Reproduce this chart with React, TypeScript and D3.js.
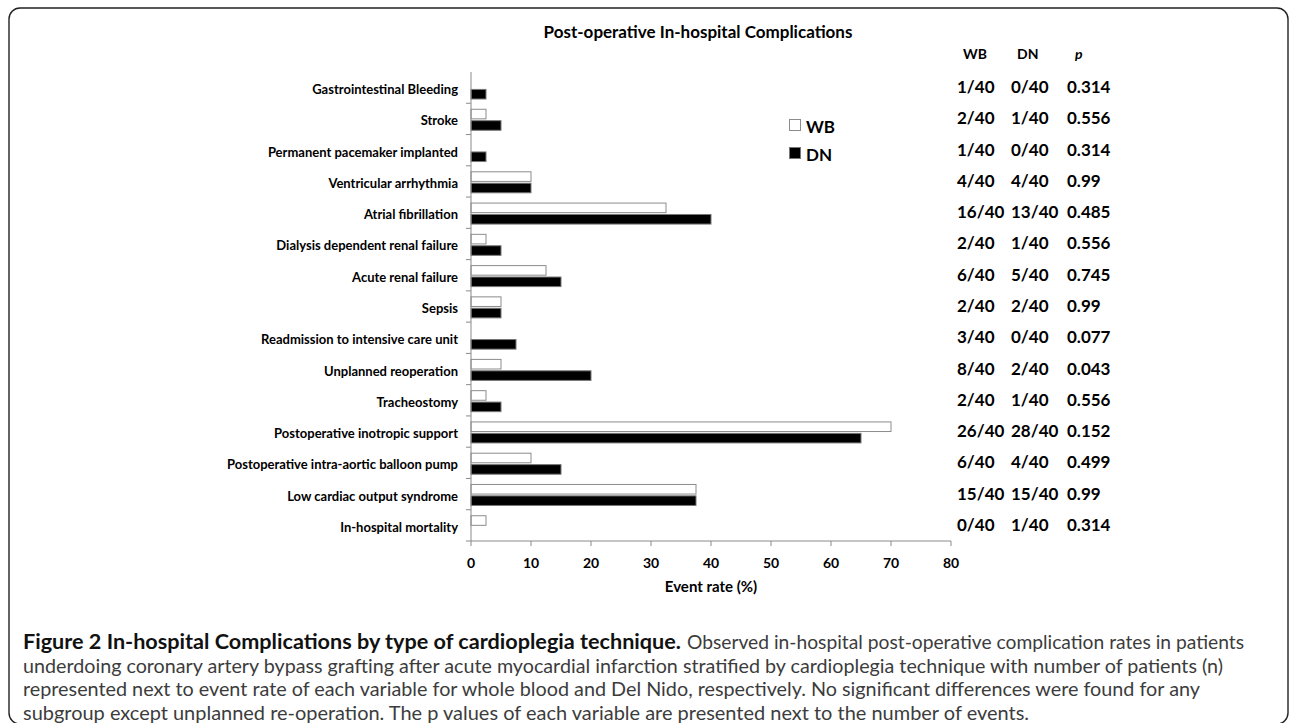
import { scaleLinear, scaleBand } from 'd3';

const W = 1290;
const H = 723;

const categories = [
  'Gastrointestinal Bleeding',
  'Stroke',
  'Permanent pacemaker implanted',
  'Ventricular arrhythmia',
  'Atrial fibrillation',
  'Dialysis dependent renal failure',
  'Acute renal failure',
  'Sepsis',
  'Readmission to intensive care unit',
  'Unplanned reoperation',
  'Tracheostomy',
  'Postoperative inotropic support',
  'Postoperative intra-aortic balloon pump',
  'Low cardiac output syndrome',
  'In-hospital mortality',
];

// event rate (%)
const wbRates = [0, 2.5, 0, 10, 32.5, 2.5, 12.5, 5, 0, 5, 2.5, 70, 10, 37.5, 2.5];
const dnRates = [2.5, 5, 2.5, 10, 40, 5, 15, 5, 7.5, 20, 5, 65, 15, 37.5, 0];

// table at the right
const wbCounts = ['1/40', '2/40', '1/40', '4/40', '16/40', '2/40', '6/40', '2/40', '3/40', '8/40', '2/40', '26/40', '6/40', '15/40', '0/40'];
const dnCounts = ['0/40', '1/40', '0/40', '4/40', '13/40', '1/40', '5/40', '2/40', '0/40', '2/40', '1/40', '28/40', '4/40', '15/40', '1/40'];
const pValues = ['0.314', '0.556', '0.314', '0.99', '0.485', '0.556', '0.745', '0.99', '0.077', '0.043', '0.556', '0.152', '0.499', '0.99', '0.314'];

const xTicks = [0, 10, 20, 30, 40, 50, 60, 70, 80];
const seriesNames = ['WB', 'DN'];

const captionBold = 'Figure 2 In-hospital Complications by type of cardioplegia technique.';
const captionLines = [
  'Observed in-hospital post-operative complication rates in patients',
  'underdoing coronary artery bypass grafting after acute myocardial infarction stratified by cardioplegia technique with number of patients (n)',
  'represented next to event rate of each variable for whole blood and Del Nido, respectively. No significant differences were found for any',
  'subgroup except unplanned re-operation. The p values of each variable are presented next to the number of events.',
];

const CHART_FONT = 'Lato, Carlito, Calibri, sans-serif';
const CAPTION_FONT = 'Lato, "Open Sans", sans-serif';
const AXIS_GREY = '#8a8a8a';

export default function App() {
  const x = scaleLinear().domain([0, 80]).range([471, 951]);
  const y = scaleBand<string>().domain(categories).range([72, 541]);
  const inner = scaleBand<string>().domain(seriesNames).range([6, 27]).paddingInner(0.16);

  const colWB = 957;
  const colDN = 1011;
  const colP = 1067;

  // caption line widths as measured on the figure
  const capLeft = 23;
  const boldWidth = 658;
  const lineWidths = [557, 1200, 1177, 1006];
  const capY = [649, 672.5, 696, 719.5];

  return (
    <svg
      width={W}
      height={H}
      style={{ position: 'absolute', left: 0, top: 0, background: '#fff' }}
      fontFamily={CHART_FONT}
    >
      {/* frame */}
      <rect x={9} y={8} width={1279} height={716} rx={11} fill="none" stroke="#222" strokeWidth={1.4} />

      {/* title */}
      <text x={698} y={31} textAnchor="middle" dominantBaseline="central" fontSize={17} fontWeight={700}>
        Post-operative In-hospital Complications
      </text>

      {/* bars */}
      {categories.map((c, i) => {
        const y0 = y(c) ?? 0;
        return (
          <g key={c}>
            {wbRates[i] > 0 && (
              <rect
                x={x(0)}
                y={y0 + (inner('WB') ?? 0)}
                width={x(wbRates[i]) - x(0)}
                height={inner.bandwidth()}
                fill="#fff"
                stroke="#8c8c8c"
                strokeWidth={1}
              />
            )}
            {dnRates[i] > 0 && (
              <rect
                x={x(0)}
                y={y0 + (inner('DN') ?? 0)}
                width={x(dnRates[i]) - x(0)}
                height={inner.bandwidth()}
                fill="#000"
                stroke="#777"
                strokeWidth={1}
              />
            )}
            <text
              x={458}
              y={y0 + y.bandwidth() / 2 + 1.5}
              textAnchor="end"
              dominantBaseline="central"
              fontSize={13}
              fontWeight={700}
            >
              {c}
            </text>
          </g>
        );
      })}

      {/* y axis */}
      <line x1={x(0)} x2={x(0)} y1={72} y2={541} stroke={AXIS_GREY} strokeWidth={1} />
      {categories.map((c) => (
        <line
          key={'t' + c}
          x1={x(0) - 5}
          x2={x(0)}
          y1={(y(c) ?? 0) + y.bandwidth()}
          y2={(y(c) ?? 0) + y.bandwidth()}
          stroke={AXIS_GREY}
          strokeWidth={1}
        />
      ))}

      {/* x axis */}
      <line x1={x(0)} x2={x(80)} y1={541} y2={541} stroke={AXIS_GREY} strokeWidth={1} />
      {xTicks.map((t) => (
        <g key={t}>
          <line x1={x(t)} x2={x(t)} y1={541} y2={546} stroke={AXIS_GREY} strokeWidth={1} />
          <text x={x(t)} y={562} textAnchor="middle" dominantBaseline="central" fontSize={14} fontWeight={700}>
            {t}
          </text>
        </g>
      ))}
      <text x={711} y={586} textAnchor="middle" dominantBaseline="central" fontSize={15} fontWeight={700}>
        Event rate (%)
      </text>

      {/* legend */}
      <rect x={789.5} y={119.5} width={11} height={11} fill="#fff" stroke="#8c8c8c" />
      <text x={806} y={126} dominantBaseline="central" fontSize={17} fontWeight={700}>WB</text>
      <rect x={789.5} y={147.5} width={11} height={11} fill="#000" stroke="#777" />
      <text x={806} y={154} dominantBaseline="central" fontSize={17} fontWeight={700}>DN</text>

      {/* table header */}
      <text x={963} y={53} dominantBaseline="central" fontSize={14} fontWeight={700}>WB</text>
      <text x={1017} y={53} dominantBaseline="central" fontSize={14} fontWeight={700}>DN</text>
      <text x={1075} y={53} dominantBaseline="central" fontSize={14} fontWeight={700} fontStyle="italic">p</text>

      {/* table rows */}
      {categories.map((c, i) => {
        const cy = (y(c) ?? 0) + y.bandwidth() / 2 - 1;
        return (
          <g key={'r' + c} fontSize={17} fontWeight={700}>
            <text x={colWB} y={cy} dominantBaseline="central">{wbCounts[i]}</text>
            <text x={colDN} y={cy} dominantBaseline="central">{dnCounts[i]}</text>
            <text x={colP} y={cy} dominantBaseline="central">{pValues[i]}</text>
          </g>
        );
      })}

      {/* caption */}
      <g fontFamily={CAPTION_FONT} fontSize={20} fill="#3c3c3c">
        <text
          x={capLeft}
          y={capY[0]}
          fontWeight={700}
          fill="#111"
          textLength={boldWidth}
          lengthAdjust="spacingAndGlyphs"
        >
          {captionBold}
        </text>
        <text
          x={capLeft + boldWidth + 6}
          y={capY[0]}
          textLength={lineWidths[0]}
          lengthAdjust="spacingAndGlyphs"
        >
          {captionLines[0]}
        </text>
        {captionLines.slice(1).map((l, i) => (
          <text
            key={i}
            x={capLeft}
            y={capY[i + 1]}
            textLength={lineWidths[i + 1]}
            lengthAdjust="spacingAndGlyphs"
          >
            {l}
          </text>
        ))}
      </g>
    </svg>
  );
}
